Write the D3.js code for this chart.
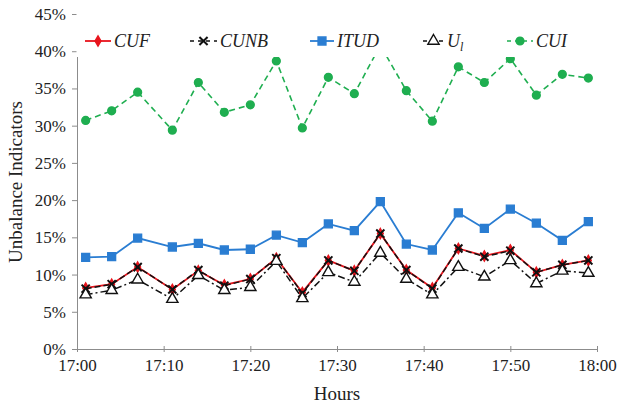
<!DOCTYPE html>
<html>
<head>
<meta charset="utf-8">
<script src="https://cdn.jsdelivr.net/npm/d3@7"></script>
<style>
  body { margin: 0; background: #fff; }
  svg text { font-family: "Liberation Serif", "Times New Roman", serif !important; fill: #222; }
</style>
</head>
<body>
<script>
// sample times, minutes after 17:00
const minutes = [1, 4, 7, 11, 14, 17, 20, 23, 26, 29, 32, 35, 38, 41, 44, 47, 50, 53, 56, 59];

// values in %
const cuf  = [8.2, 8.7, 11.0, 8.0, 10.5, 8.6, 9.4, 12.2, 7.6, 11.9, 10.5, 15.5, 10.6, 8.2, 13.5, 12.5, 13.3, 10.3, 11.3, 11.9];
const cunb = [8.1, 8.7, 11.0, 8.0, 10.6, 8.5, 9.4, 12.2, 7.5, 11.9, 10.5, 15.5, 10.6, 8.1, 13.5, 12.4, 13.2, 10.3, 11.3, 11.9];
const itud = [12.3, 12.4, 14.9, 13.7, 14.2, 13.3, 13.4, 15.3, 14.3, 16.8, 15.9, 19.8, 14.1, 13.3, 18.3, 16.2, 18.8, 16.9, 14.6, 17.1];
const ul   = [7.3, 7.9, 9.3, 6.7, 9.9, 7.9, 8.3, 11.8, 6.8, 10.3, 9.0, 12.9, 9.4, 7.3, 11.0, 9.7, 11.9, 8.8, 10.5, 10.2];
const cui  = [30.7, 32.0, 34.5, 29.4, 35.8, 31.8, 32.8, 38.7, 29.7, 36.5, 34.3, 40.8, 34.7, 30.6, 37.9, 35.8, 39.0, 34.1, 36.9, 36.4];

const yTicks = [0, 5, 10, 15, 20, 25, 30, 35, 40, 45];

const width = 618, height = 407;
const serif = '"Liberation Serif", "Times New Roman", serif';
const base = new Date(2020, 0, 1, 17, 0);
const toDate = m => new Date(base.getTime() + m * 60000);

const x = d3.scaleTime()
  .domain([toDate(0), toDate(60)])
  .range([77, 597]);
const y = d3.scaleLinear()
  .domain([0, 45])
  .range([349, 14]);

const svg = d3.select("body").append("svg")
  .attr("width", width)
  .attr("height", height);

// axes
const xAxis = svg.append("g")
  .attr("transform", `translate(0,${y(0)})`)
  .call(d3.axisBottom(x)
    .ticks(d3.timeMinute.every(10))
    .tickFormat(d3.timeFormat("%H:%M"))
    .tickSizeInner(4).tickSizeOuter(0).tickPadding(6));
xAxis.selectAll(".tick line").attr("y1", -3).attr("y2", 3);

const yAxis = svg.append("g")
  .attr("transform", `translate(${x(toDate(0))},0)`)
  .call(d3.axisLeft(y)
    .tickValues(yTicks)
    .tickFormat(d => d + "%")
    .tickSizeInner(5).tickSizeOuter(0).tickPadding(6));

svg.selectAll("g").attr("font-family", serif);
svg.selectAll(".domain, .tick line").attr("stroke", "#8c8c8c");
svg.selectAll(".tick text")
  .attr("font-size", 17)
  .style("font-family", serif)
  .attr("fill", "#222");

svg.append("text")
  .attr("x", (x.range()[0] + x.range()[1]) / 2)
  .attr("y", 400)
  .attr("text-anchor", "middle")
  .attr("font-size", 19)
  .style("font-family", serif)
  .text("Hours");

svg.append("text")
  .attr("transform", "translate(22,182) rotate(-90)")
  .attr("text-anchor", "middle")
  .attr("font-size", 19)
  .style("font-family", serif)
  .text("Unbalance Indicators");

const series = [
  { name: "CUF", values: cuf, color: "#e8141c", dash: null, symbol: d3.symbolDiamond, size: 30, fill: "#e8141c", stroke: "#e8141c", sw: 1.8 },
  { name: "CUNB", values: cunb, color: "#111", dash: "6,3", symbol: d3.symbolX, size: 45, fill: "none", stroke: "#111", sw: 1.5 },
  { name: "ITUD", values: itud, color: "#2a7dd2", dash: null, symbol: d3.symbolSquare, size: 62, fill: "#2a7dd2", stroke: "#2a7dd2", sw: 1.8 },
  { name: "U", sub: "l", values: ul, color: "#111", dash: "7,3,2,3", symbol: d3.symbolTriangle, size: 55, fill: "#fff", stroke: "#111", sw: 1.5 },
  { name: "CUI", values: cui, color: "#1fae50", dash: "6,4", symbol: d3.symbolCircle, size: 48, fill: "#1fae50", stroke: "#1fae50", sw: 1.6 }
];

const line = d3.line()
  .x((d, i) => x(toDate(minutes[i])))
  .y(d => y(d));

series.forEach(s => {
  const g = svg.append("g");
  g.append("path")
    .attr("d", line(s.values))
    .attr("fill", "none")
    .attr("stroke", s.color)
    .attr("stroke-width", s.sw)
    .attr("stroke-dasharray", s.dash);
  g.selectAll("path.m")
    .data(s.values)
    .join("path")
    .attr("class", "m")
    .attr("transform", (d, i) => `translate(${x(toDate(minutes[i]))},${y(d)})`)
    .attr("d", d3.symbol(s.symbol, s.size))
    .attr("fill", s.fill)
    .attr("stroke", s.stroke)
    .attr("stroke-width", s.symbol === d3.symbolX ? 2 : 1.4);
});

// legend box sits over the top of the plot
const legend = svg.append("g");
legend.append("rect")
  .attr("x", 76.5).attr("y", 8)
  .attr("width", width - 76.5).attr("height", 49)
  .attr("fill", "#fff");

const legX = [85, 190, 310, 423, 507];
const legW = [26, 27, 24, 21, 26];
const legY = 41;
series.forEach((s, i) => {
  const g = legend.append("g");
  g.append("line")
    .attr("x1", legX[i]).attr("x2", legX[i] + legW[i])
    .attr("y1", legY).attr("y2", legY)
    .attr("stroke", s.color)
    .attr("stroke-width", s.sw)
    .attr("stroke-dasharray", s.dash ? "4,4" : null);
  g.append("path")
    .attr("transform", `translate(${legX[i] + legW[i] / 2},${legY})`)
    .attr("d", d3.symbol(s.symbol, s.size))
    .attr("fill", s.fill)
    .attr("stroke", s.stroke)
    .attr("stroke-width", s.symbol === d3.symbolX ? 2 : 1.4);
  const t = g.append("text")
    .attr("x", legX[i] + legW[i] + 3)
    .attr("y", legY + 6)
    .attr("font-size", 18)
    .attr("font-style", "italic")
    .style("font-family", serif)
    .text(s.name);
  if (s.sub) {
    t.append("tspan")
      .attr("dy", 4)
      .attr("font-size", 12)
      .text(s.sub);
  }
});
</script>
</body>
</html>
